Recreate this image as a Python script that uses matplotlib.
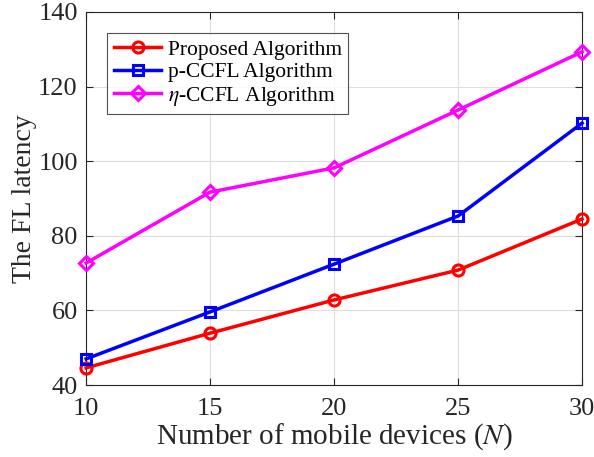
import matplotlib
matplotlib.use("Agg")
import matplotlib.pyplot as plt
import numpy as np

plt.rcParams['font.family'] = ['Liberation Serif', 'DejaVu Serif']
plt.rcParams['mathtext.fontset'] = 'stix'

devices = [10, 15, 20, 25, 30]
proposed = [44.6, 53.9, 62.8, 70.8, 84.5]
p_ccfl = [47.0, 59.6, 72.4, 85.3, 110.2]
eta_ccfl = [72.7, 91.7, 98.2, 113.7, 129.3]

fig = plt.figure(figsize=(5.94, 4.57), dpi=100)
ax = fig.add_axes([0.145, 0.1575, 0.835, 0.8165])

ax.plot(devices, proposed, color='#ff0000', lw=2.5, marker='o', ms=8, mfc='none', mew=2.2,
        label='Proposed Algorithm', clip_on=False, zorder=3)
ax.plot(devices, p_ccfl, color='#0000ff', lw=2.5, marker='s', ms=7, mfc='none', mew=2.2,
        label='p-CCFL Algorithm', clip_on=False, zorder=3)
ax.plot(devices, eta_ccfl, color='#ff00ff', lw=2.5, marker='D', ms=7.5, mfc='none', mew=2.2,
        label=r'$\eta$-CCFL Algorithm', clip_on=False, zorder=3)

ax.set_xlim(10, 30)
ax.set_ylim(40, 140)
ax.set_xticks(devices)
ax.set_yticks(np.arange(40, 141, 20))
ax.grid(True, color='#dedede', lw=0.8)
ax.set_axisbelow(True)
ax.tick_params(direction='in', top=True, right=True, labelsize=19, length=5,
               color='#262626', labelcolor='#262626')
ax.tick_params(axis='x', pad=9)
ax.tick_params(axis='y', pad=6)
for s in ax.spines.values():
    s.set_color('#262626')
    s.set_linewidth(0.8)

ax.set_xlabel(r'Number of mobile devices ($N$)', fontsize=21, color='#262626', labelpad=1)
ax.set_ylabel('The FL latency', fontsize=20, color='#262626', labelpad=1)

leg = ax.legend(loc='upper left', fontsize=15.5, frameon=True, fancybox=False,
                edgecolor='#262626', borderpad=0.3, labelspacing=0.12,
                handlelength=2.2, handletextpad=0.3, borderaxespad=0,
                bbox_to_anchor=(0.043, 0.943))
leg.get_frame().set_linewidth(0.8)

fig.savefig('out.png', dpi=100)
